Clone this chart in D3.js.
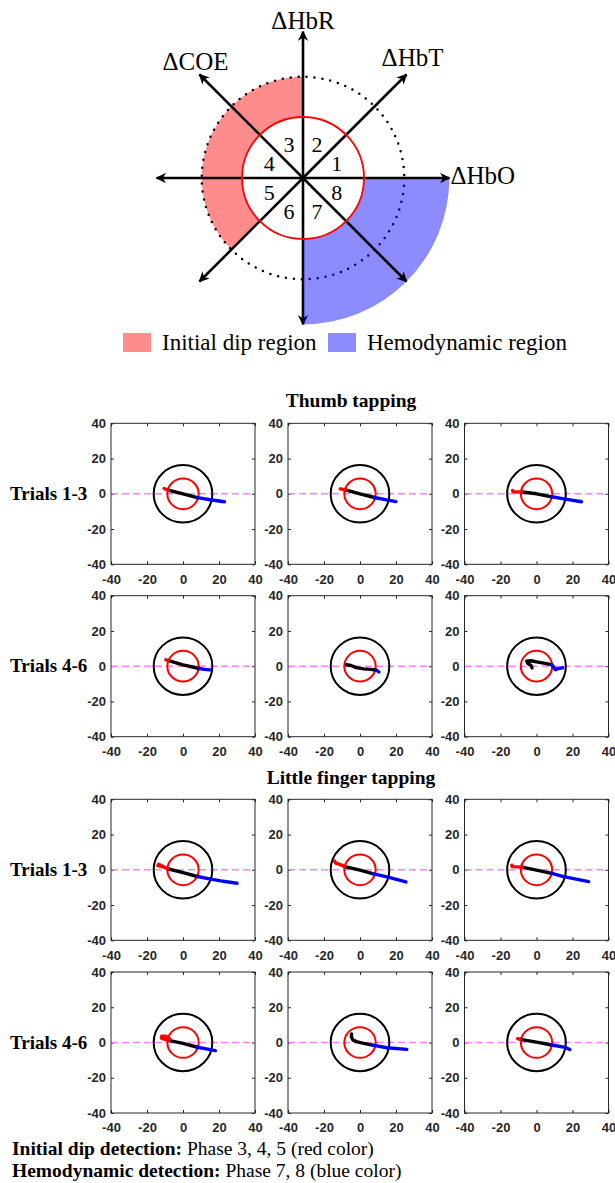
<!DOCTYPE html>
<html><head><meta charset="utf-8">
<script src="https://cdn.jsdelivr.net/npm/d3@7"></script>
<style>body{margin:0;background:#fff}</style>
</head><body><svg id="c" width="615" height="1183"></svg>
<script>
// ---------- data: top diagram ----------
const axisNames = ["ΔHbO", "ΔHbT", "ΔHbR", "ΔCOE"];
const axisAngles = [0, 45, 90, 135];
const arrowAngles = [0, 45, 90, 135, 180, 225, 270, 315];
const phaseNumbers = [1, 2, 3, 4, 5, 6, 7, 8];
const phaseAngles = [22.5, 67.5, 112.5, 157.5, 202.5, 247.5, 292.5, 337.5];
const regionNames = ["Initial dip region", "Hemodynamic region"];
const regionStartAngles = [90, -90];
const regionEndAngles = [225, 0];
const regionOuter = [1.66, 2.4];
const thresholdCircle = 1;
const dottedCircle = 1.66;
const arrowLength = 2.4;

// ---------- data: trial panels ----------
const xTicks = [-40, -20, 0, 20, 40];
const yTicks = [-40, -20, 0, 20, 40];
const taskTitles = ["Thumb tapping", "Little finger tapping"];
const rowLabels = ["Trials 1-3", "Trials 4-6", "Trials 1-3", "Trials 4-6"];
const innerThreshold = 8.7;
const outerThreshold = 16.3;
const redPaths = [
  [[-10.5,3],[-8,2]],
  [[-11,2.8],[-8,2.2]],
  [[-13.3,1.8],[-13,1.2],[-8,1]],
  [[-9.5,3.6],[-8,3.2]],
  [],
  [],
  [[-8.5,0.6],[-13.5,3.2],[-14,2.4],[-11,1.6],[-8.5,0.6]],
  [[-14.2,5],[-13.5,3.8],[-11,3],[-8.5,1.8]],
  [[-13.7,2.6],[-13.5,1.8],[-8,1.5]],
  [[-7.5,2.2],[-9.5,3.6],[-11.8,3.6],[-12,2.5],[-10,1.8],[-8,1.2]],
  [],
  [[-10.5,2.2],[-9,1.8]]
];
const blackPaths = [
  [[-8,2],[0,0],[8,-2.2]],
  [[-8,2.2],[0,0],[8,-2.1]],
  [[-8,1],[0,0],[8.5,-1.7]],
  [[-8,3.2],[0,0.8],[9,-1.3]],
  [[-7.5,0.8],[-5,0.4],[-2,-0.8],[2,-1.5],[6,-1.8],[9,-2.2]],
  [[-2.5,-1],[-3,0.3],[-5,1.8],[-5.4,2.9],[-3,3.1],[0,2.5],[4,1.7],[8.5,0.8]],
  [[-8.5,0.6],[0,-1.6],[8,-3.8]],
  [[-8.5,1.8],[0,-0.2],[7,-2.2]],
  [[-8,1.5],[0,-0.2],[8.5,-2]],
  [[-8,1.2],[0,-0.5],[8,-2.7]],
  [[-4.7,4.8],[-4.8,3.2],[-4,1.5],[-2,0.5],[2,-0.5],[7,-1.5]],
  [[-9,1.8],[0,0.2],[8.5,-1.4]]
];
const bluePaths = [
  [[8,-2.2],[16,-3.5],[23,-4.5]],
  [[8,-2.1],[14,-3.3],[20,-4.4]],
  [[8.5,-1.7],[16,-3],[25,-4.5]],
  [[9,-1.3],[12,-1.8],[15,-2.1]],
  [[9,-2.2],[10.5,-3.2]],
  [[8.5,0.8],[9.5,-0.5],[10.5,-2],[12,-1.4],[14.5,-0.9]],
  [[8,-3.8],[14,-5],[21,-6.3],[30,-7.6]],
  [[7,-2.2],[15,-4],[25.5,-6.9]],
  [[8.5,-2],[15,-3.9],[29,-6.7]],
  [[8,-2.7],[13,-3.6],[18,-4.6]],
  [[7,-1.5],[15,-3],[26,-3.9]],
  [[8.5,-1.4],[16,-2.8],[18.5,-4]]
];
const noteBold = ["Initial dip detection:", "Hemodynamic detection:"];
const noteText = [" Phase 3, 4, 5 (red color)", " Phase 7, 8 (blue color)"];

// ---------- drawing ----------
const svg = d3.select("#c");
const serif = "'Liberation Serif','Times New Roman',serif";
const sans = "'Liberation Sans',Arial,sans-serif";

// top diagram
const cx = 303, cy = 178;
const rad = d3.scaleLinear().domain([0, 1]).range([0, 61]);
const ang = d3.scaleLinear().domain([0, 360]).range([0, 2 * Math.PI]);
const px = (deg, r) => cx + rad(r) * Math.cos(ang(deg));
const py = (deg, r) => cy - rad(r) * Math.sin(ang(deg));
const diag = svg.append("g");
const defs = svg.append("defs");
defs.append("marker").attr("id", "ah").attr("viewBox", "0 0 10 10")
  .attr("refX", 9).attr("refY", 5).attr("markerWidth", 4).attr("markerHeight", 4)
  .attr("markerUnits", "strokeWidth").attr("orient", "auto")
  .append("path").attr("d", "M0,0 L10,5 L0,10 L3,5 Z").attr("fill", "#000");
const arcGen = d3.arc();
// red region (under)
diag.append("path")
  .attr("transform", `translate(${cx},${cy})`)
  .attr("d", arcGen({innerRadius: rad(thresholdCircle), outerRadius: rad(regionOuter[0]),
    startAngle: ang(90 - regionEndAngles[0]), endAngle: ang(90 - regionStartAngles[0])}))
  .attr("fill", "#ff8c8c");
// dotted circle
diag.append("circle").attr("cx", cx).attr("cy", cy).attr("r", rad(dottedCircle))
  .attr("fill", "none").attr("stroke", "#000").attr("stroke-width", 2.5)
  .attr("stroke-linecap", "round").attr("stroke-dasharray", "0,8");
function arrow(g, deg) {
  g.append("line").attr("x1", cx).attr("y1", cy)
    .attr("x2", px(deg, arrowLength)).attr("y2", py(deg, arrowLength))
    .attr("stroke", "#000").attr("stroke-width", 2.6).attr("marker-end", "url(#ah)");
}
arrowAngles.filter(a => a === 270).forEach(a => arrow(diag, a));
// blue region (translucent, over)
diag.append("path")
  .attr("transform", `translate(${cx},${cy})`)
  .attr("d", arcGen({innerRadius: rad(thresholdCircle), outerRadius: rad(regionOuter[1]),
    startAngle: ang(90 - regionEndAngles[1]), endAngle: ang(90 - regionStartAngles[1])}))
  .attr("fill", "rgba(0,0,255,0.45)");
arrowAngles.filter(a => a !== 270).forEach(a => arrow(diag, a));
diag.append("circle").attr("cx", cx).attr("cy", cy).attr("r", rad(thresholdCircle))
  .attr("fill", "none").attr("stroke", "#ff0000").attr("stroke-width", 1.8);
diag.selectAll("text.ph").data(phaseNumbers).join("text")
  .attr("x", (d, i) => px(phaseAngles[i], 0.6)).attr("y", (d, i) => py(phaseAngles[i], 0.6) + 7.5)
  .attr("text-anchor", "middle").attr("font-family", serif).attr("font-size", 22)
  .text(d => d);
const labelOffsets = [[1, 6, "start"], [6, -8, "middle"], [0, -3, "middle"], [-4, -4, "middle"]];
diag.selectAll("text.ax").data(axisNames).join("text")
  .attr("x", (d, i) => px(axisAngles[i], arrowLength) + labelOffsets[i][0])
  .attr("y", (d, i) => py(axisAngles[i], arrowLength) + labelOffsets[i][1])
  .attr("text-anchor", (d, i) => labelOffsets[i][2])
  .attr("font-family", serif).attr("font-size", 25).text(d => d);
// legend
const legColors = ["#ff8c8c", "#8c8cff"];
const legX = [123, 328];
regionNames.forEach((n, i) => {
  svg.append("rect").attr("x", legX[i]).attr("y", 333).attr("width", 28).attr("height", 19).attr("fill", legColors[i]);
  svg.append("text").attr("x", legX[i] + 39).attr("y", 350).attr("font-family", serif)
    .attr("font-size", 23).text(n);
});

// panels
const colLefts = [111, 288, 464.5];
const rowTops = [423.3, 595.7, 799.3, 972];
const pw = 144, ph = 141;
const line = (xs, ys) => d3.line().x(d => xs(d[0])).y(d => ys(d[1]));
const fmt = d => String(d);
rowTops.forEach((ty, r) => {
  colLefts.forEach((lx, c) => {
    const k = r * 3 + c;
    const xs = d3.scaleLinear().domain([-40, 40]).range([lx, lx + pw]);
    const ys = d3.scaleLinear().domain([-40, 40]).range([ty + ph, ty]);
    const g = svg.append("g");
    g.append("rect").attr("x", lx).attr("y", ty).attr("width", pw).attr("height", ph)
      .attr("fill", "#fff");
    const ax = (a, tr, lab) => {
      const s = g.append("g").attr("transform", tr).call(a);
      s.select(".domain").remove();
      s.selectAll("line").attr("stroke", "#262626");
      s.selectAll("text").attr("font-family", sans).attr("font-weight", "bold")
        .attr("font-size", 13).attr("fill", "#262626");
      if (!lab) s.selectAll("text").remove();
    };
    ax(d3.axisBottom(xs).tickValues(xTicks).tickSizeInner(-3).tickSizeOuter(0).tickPadding(10).tickFormat(fmt), `translate(0,${ty + ph})`, true);
    ax(d3.axisLeft(ys).tickValues(yTicks).tickSizeInner(-3).tickSizeOuter(0).tickPadding(5).tickFormat(fmt), `translate(${lx},0)`, true);
    ax(d3.axisTop(xs).tickValues(xTicks).tickSizeInner(-3).tickSizeOuter(0), `translate(0,${ty})`, false);
    ax(d3.axisRight(ys).tickValues(yTicks).tickSizeInner(-3).tickSizeOuter(0), `translate(${lx + pw},0)`, false);
    g.append("line").attr("x1", xs(-40)).attr("x2", xs(40)).attr("y1", ys(0)).attr("y2", ys(0))
      .attr("stroke", "#ff80ff").attr("stroke-width", 1.6).attr("stroke-dasharray", "7,4");
    g.append("ellipse").attr("cx", xs(0)).attr("cy", ys(0))
      .attr("rx", xs(outerThreshold) - xs(0)).attr("ry", ys(0) - ys(outerThreshold))
      .attr("fill", "none").attr("stroke", "#000").attr("stroke-width", 2);
    g.append("ellipse").attr("cx", xs(0)).attr("cy", ys(0))
      .attr("rx", xs(innerThreshold) - xs(0)).attr("ry", ys(0) - ys(innerThreshold))
      .attr("fill", "none").attr("stroke", "#ff0000").attr("stroke-width", 2);
    const L = line(xs, ys);
    [[blackPaths[k], "#000"], [redPaths[k], "#ff0000"], [bluePaths[k], "#0000ff"]].forEach(([p, col]) => {
      if (p.length) g.append("path").attr("d", L(p)).attr("fill", "none").attr("stroke", col)
        .attr("stroke-width", 3.4).attr("stroke-linecap", "round").attr("stroke-linejoin", "round");
    });
    g.append("rect").attr("x", lx).attr("y", ty).attr("width", pw).attr("height", ph)
      .attr("fill", "none").attr("stroke", "#262626").attr("stroke-width", 1);
  });
  svg.append("text").attr("x", 10).attr("y", ty + ph / 2 + 6).attr("font-family", serif)
    .attr("font-weight", "bold").attr("font-size", 19).text(rowLabels[r]);
});
const titleY = [407, 784];
taskTitles.forEach((t, i) => {
  svg.append("text").attr("x", 351).attr("y", titleY[i]).attr("text-anchor", "middle")
    .attr("font-family", serif).attr("font-weight", "bold").attr("font-size", 19.5).text(t);
});
const noteY = [1155, 1177];
noteBold.forEach((b, i) => {
  const t = svg.append("text").attr("x", 12).attr("y", noteY[i]).attr("font-family", serif).attr("font-size", 19.5);
  t.append("tspan").attr("font-weight", "bold").text(b);
  t.append("tspan").text(noteText[i]);
});
</script></body></html>
